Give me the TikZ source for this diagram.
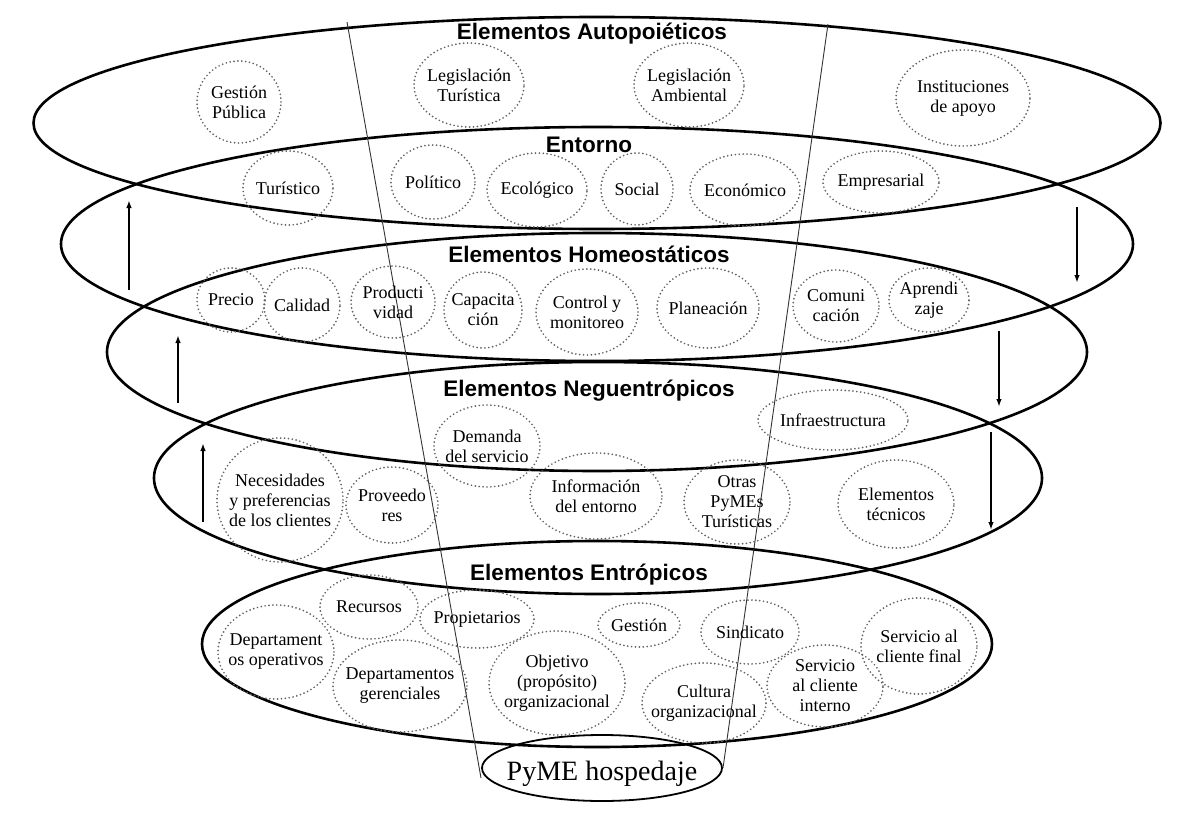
\documentclass[tikz,border=0pt]{standalone}
\usepackage{fontspec}
\setmainfont{Liberation Serif}
\newfontfamily\ttlfont{Liberation Sans}
\usetikzlibrary{shapes.geometric,arrows.meta}
\tikzset{
  big/.style={draw, ellipse, line width=2.6pt, inner sep=0pt, outer sep=0pt},
  dotc/.style={draw=black!62, line width=1.9pt, dash pattern=on 0pt off 3.9pt, line cap=round},
  lbl/.style={align=center, inner sep=0pt, font=\fontsize{18}{20}\selectfont},
  ttl/.style={anchor=base, inner sep=0pt, font=\ttlfont\bfseries\fontsize{22.5}{26}\selectfont},
  funnel/.style={line width=0.9pt, draw=black!80},
  flow/.style={line width=1.6pt, -{Latex[length=8pt,width=5.5pt]}},
}
\newcommand\blob[6]{\node[lbl] (#1) at (#2,#3) {#6};\draw[dotc] (#1.center) ellipse [x radius=#4pt, y radius=#5pt];}
\begin{document}
\begin{tikzpicture}[x=1pt,y=-1pt]
\useasboundingbox (0,0) rectangle (1195,816);
% big ellipses
\node[big, minimum width=1127pt, minimum height=212pt] (e1) at (597,123) {};
\node[big, minimum width=1072pt, minimum height=234pt] (e2) at (597,244) {};
\node[big, minimum width=980pt, minimum height=238pt] (e3) at (597,352) {};
\node[big, minimum width=888pt, minimum height=232pt] (e4) at (598,478) {};
\node[big, minimum width=790pt, minimum height=206pt] (e5) at (597,644) {};
% base
\node[draw, ellipse, line width=1.8pt, inner sep=0pt, minimum width=240pt, minimum height=66pt] (pymeb) at (602,768) {};
\node[anchor=base, inner sep=0pt, font=\fontsize{28}{32}\selectfont] (pyme) at (602,780) {PyME hospedaje};
% funnel lines
\coordinate (fl1) at (347,22);
\coordinate (fl2) at (481,778);
\coordinate (fr1) at (828,24);
\coordinate (fr2) at (723,768);
\draw[funnel] (fl1) -- (fl2);
\draw[funnel] (fr1) -- (fr2);
% titles
\node[ttl] (t1) at (592,40) {Elementos Autopoiéticos};
\node[ttl] (t2) at (589,152) {Entorno};
\node[ttl] (t3) at (589,262) {Elementos Homeostáticos};
\node[ttl] (t4) at (589,396) {Elementos Neguentrópicos};
\node[ttl] (t5) at (589,580) {Elementos Entrópicos};
% arrows
\coordinate (a1s) at (129,290); \coordinate (a1e) at (129,200);
\coordinate (a2s) at (178,403); \coordinate (a2e) at (178,335);
\coordinate (a3s) at (203,522); \coordinate (a3e) at (203,443);
\coordinate (b1s) at (1077,207); \coordinate (b1e) at (1077,283);
\coordinate (b2s) at (999,331); \coordinate (b2e) at (999,407);
\coordinate (b3s) at (991,432); \coordinate (b3e) at (991,530);
\draw[flow] (a1s) -- (a1e);
\draw[flow] (a2s) -- (a2e);
\draw[flow] (a3s) -- (a3e);
\draw[flow] (b1s) -- (b1e);
\draw[flow] (b2s) -- (b2e);
\draw[flow] (b3s) -- (b3e);
% row 1
\blob{gp}{239}{102}{42}{41}{Gestión\\Pública}
\blob{lt}{469}{85}{55}{42}{Legislación\\Turística}
\blob{la}{689}{85}{55}{42}{Legislación\\Ambiental}
\blob{ia}{963}{98}{67}{48}{Instituciones\\de apoyo}
% row 2
\blob{tu}{288}{188}{45}{37}{Turístico}
\blob{po}{433}{182}{42}{37}{Político}
\blob{ec}{537}{190}{50}{37}{Ecológico}
\blob{so}{637}{189}{36}{36}{Social}
\blob{eco}{745}{190}{55}{36}{Económico}
\blob{em}{881}{182}{58}{31}{Empresarial}
% row 3
\blob{pr}{231}{300}{34}{32}{Precio}
\blob{ca}{302}{305}{38}{37}{Calidad}
\blob{pd}{393}{302}{42}{36}{Producti\\vidad}
\blob{cp}{483}{310}{39}{38}{Capacita\\ción}
\blob{cm}{587}{312}{51}{43}{Control y\\monitoreo}
\blob{pl}{708}{308}{51}{40}{Planeación}
\blob{co}{836}{306}{43}{36}{Comuni\\cación}
\blob{ap}{929}{300}{40}{32}{Aprendi\\zaje}
% row 4
\blob{ds}{487}{446}{53}{41}{Demanda\\del servicio}
\blob{inf}{833}{420}{75}{30}{Infraestructura}
\blob{ne}{280}{500}{63}{62}{Necesidades\\y preferencias\\de los clientes}
\blob{pv}{392}{505}{46}{38}{Proveedo\\res}
\blob{ie}{596}{496}{66}{43}{Información\\del entorno}
\blob{op}{737}{502}{53}{42}{Otras\\PyMEs\\Turísticas}
\blob{et}{896}{504}{58}{44}{Elementos\\técnicos}
% row 5
\blob{re}{369}{607}{49}{32}{Recursos}
\blob{pp}{477}{619}{57}{29}{Propietarios}
\blob{dop}{276}{652}{58}{47}{Departament\\os operativos}
\blob{dg}{400}{686}{67}{46}{Departamentos\\gerenciales}
\blob{ob}{557}{683}{68}{52}{Objetivo\\(propósito)\\organizacional}
\blob{ge}{639}{625}{41}{22}{Gestión}
\blob{si}{750}{632}{49}{32}{Sindicato}
\blob{cu}{704}{703}{62}{40}{Cultura\\organizacional}
\blob{sci}{825}{686}{58}{41}{Servicio\\al cliente\\interno}
\blob{scf}{919}{646}{58}{48}{Servicio al\\cliente final}
\end{tikzpicture}
\end{document}
